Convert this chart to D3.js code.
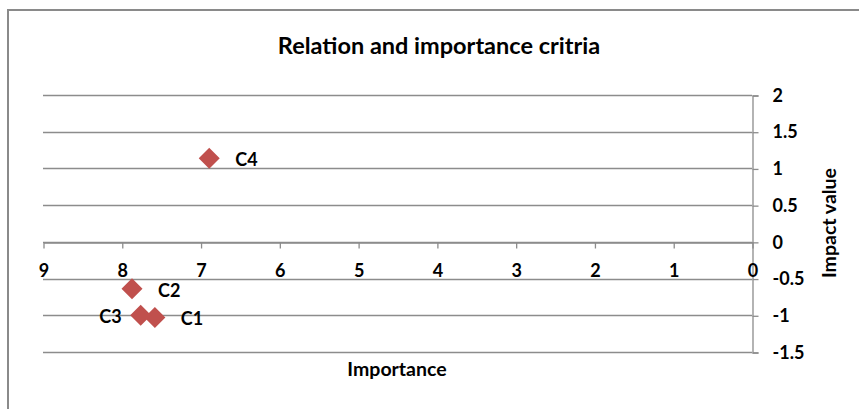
<!DOCTYPE html>
<html>
<head>
<meta charset="utf-8">
<script src="https://cdn.jsdelivr.net/npm/d3@7"></script>
<style>
  body { margin: 0; background: #fff; }
  text { font-family: Lato, "Open Sans", sans-serif; font-weight: bold; fill: #000; }
</style>
</head>
<body>
<div id="chart"></div>
<script>
// chart data
var names = ["C1", "C2", "C3", "C4"];
var importance = [7.58, 7.87, 7.76, 6.89];
var impact = [-1.03, -0.64, -1.0, 1.14];
var labelSide = ["right", "right", "left", "right"];
var xTicks = [9, 8, 7, 6, 5, 4, 3, 2, 1, 0];
var yTicks = [2, 1.5, 1, 0.5, 0, -0.5, -1, -1.5];

var svgWidth = 859;
var svgHeight = 409;
var fontStack = "Lato, 'Open Sans', sans-serif";

var svg = d3.select("#chart")
  .append("svg")
  .attr("width", svgWidth)
  .attr("height", svgHeight);

// outer frame (left + top visible)
svg.append("path")
  .attr("d", "M8,409 V10 H859")
  .attr("fill", "none")
  .attr("stroke", "#8a8a8a")
  .attr("stroke-width", 2);

var xScale = d3.scaleLinear().domain([9, 0]).range([43, 752]);
var yScale = d3.scaleLinear().domain([-1.5, 2]).range([352, 95]);

// horizontal gridlines
svg.append("g")
  .selectAll("line")
  .data(yTicks)
  .enter()
  .append("line")
  .attr("x1", xScale(9))
  .attr("x2", xScale(0))
  .attr("y1", d => Math.round(yScale(d)) + 0.5)
  .attr("y2", d => Math.round(yScale(d)) + 0.5)
  .attr("stroke", "#8c8c8c")
  .attr("stroke-width", 1.3);

// y axis on the right (at x = 0)
var rightAxis = d3.axisRight(yScale)
  .tickValues(yTicks)
  .tickSize(6)
  .tickPadding(14)
  .tickFormat(d => String(d));

var yAxis = svg.append("g")
  .attr("transform", `translate(${xScale(0) + 0.5}, 0.5)`)
  .call(rightAxis);
yAxis.select(".domain").attr("stroke", "#8c8c8c").attr("stroke-width", 1.3);
yAxis.selectAll(".tick line").attr("stroke", "#8c8c8c").attr("stroke-width", 1.3);
yAxis.selectAll(".tick text")
  .style("font-size", "18px")
  .style("font-family", fontStack)
  .style("font-weight", "bold")
  .attr("fill", "#000");

// x axis crossing at y = 0
var bottomAxis = d3.axisBottom(xScale)
  .tickValues(xTicks)
  .tickSize(6)
  .tickPadding(16)
  .tickSizeOuter(0)
  .tickFormat(d => String(d));

var xAxis = svg.append("g")
  .attr("transform", `translate(0.5, ${Math.round(yScale(0)) + 0.5})`)
  .call(bottomAxis);
xAxis.select(".domain").attr("stroke", "#8c8c8c").attr("stroke-width", 1.3);
xAxis.selectAll(".tick line").attr("stroke", "#8c8c8c").attr("stroke-width", 1.3);
xAxis.selectAll(".tick text")
  .style("font-size", "18px")
  .style("font-family", fontStack)
  .style("font-weight", "bold")
  .attr("fill", "#000");

// title
svg.append("text")
  .attr("x", 439)
  .attr("y", 54)
  .attr("text-anchor", "middle")
  .style("font-size", "23.5px")
  .text("Relation and importance critria");

// axis titles
svg.append("text")
  .attr("x", 397)
  .attr("y", 376)
  .attr("text-anchor", "middle")
  .style("font-size", "19.5px")
  .text("Importance");

svg.append("text")
  .attr("transform", "translate(836, 223) rotate(-90)")
  .attr("text-anchor", "middle")
  .style("font-size", "19.5px")
  .text("Impact value");

// points
var points = names.map((n, i) => ({ name: n, x: importance[i], y: impact[i], side: labelSide[i] }));

svg.append("g")
  .selectAll("path")
  .data(points)
  .enter()
  .append("path")
  .attr("transform", d => `translate(${xScale(d.x)}, ${yScale(d.y)})`)
  .attr("d", "M0,-10.5 L10.5,0 L0,10.5 L-10.5,0 Z")
  .attr("fill", "#c0504d");

// data labels
svg.append("g")
  .selectAll("text")
  .data(points)
  .enter()
  .append("text")
  .attr("x", d => d.side === "right" ? xScale(d.x) + 26 : xScale(d.x) - 19)
  .attr("y", d => yScale(d.y) + 8)
  .attr("text-anchor", d => d.side === "right" ? "start" : "end")
  .style("font-size", "18px")
  .text(d => d.name);
</script>
</body>
</html>
